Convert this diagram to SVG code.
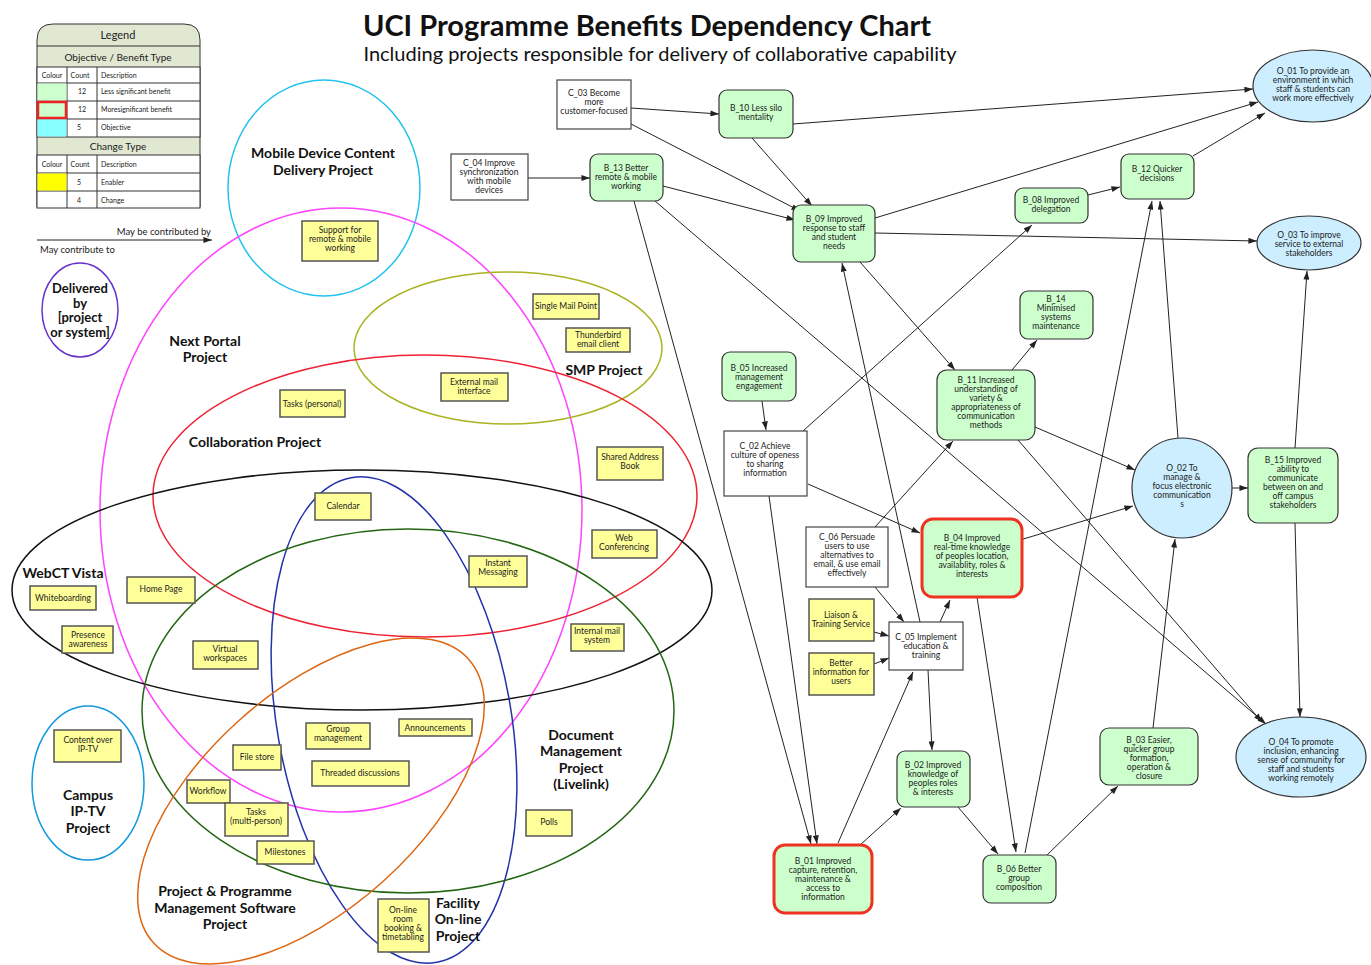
<svg xmlns="http://www.w3.org/2000/svg" width="1371" height="965" viewBox="0 0 1371 965">
<defs>
<marker id="ah" viewBox="0 0 10 7" refX="10" refY="3.5" markerWidth="9" markerHeight="6" orient="auto" markerUnits="userSpaceOnUse"><path d="M0,0 L10,3.5 L0,7 z" fill="#222"/></marker>
</defs>
<style>
text{font-family:Lato,"Open Sans","Liberation Sans",sans-serif;fill:#222}
.t{font-size:8.5px;text-anchor:middle}
.lg{font-size:7px}
.pl{font-size:14px;font-weight:bold;text-anchor:middle;fill:#111}
.dl{font-size:13px;font-weight:bold;text-anchor:middle;fill:#111}
.b{fill:#ccffcc;stroke:#333;stroke-width:1.2}
.bm{fill:#ccffcc;stroke:#ee3322;stroke-width:3}
.c{fill:#fff;stroke:#444;stroke-width:1.2}
.e{fill:#ffff99;stroke:#555;stroke-width:1.5}
.o{fill:#cceeff;stroke:#333;stroke-width:1.2}
.p{fill:none;stroke-width:1.5}
.cn line{stroke:#222;stroke-width:1;marker-end:url(#ah)}
.lgc{fill:none;stroke:#333;stroke-width:1}
</style>
<rect width="1371" height="965" fill="#fff"/>
<g id="title">
<text x="647" y="36" style="font-size:29px;font-weight:bold;text-anchor:middle;fill:#111">UCI Programme Benefits Dependency Chart</text>
<text x="660" y="61" style="font-size:20px;text-anchor:middle;fill:#111">Including projects responsible for delivery of collaborative capability</text>
</g>
<g id="legend">
<path d="M37,207 V40 Q37,24 53,24 H184 Q200,24 200,40 V207 Z" fill="#e0e8d2" stroke="#333" stroke-width="1"/>
<rect x="37" y="67" width="163" height="70" fill="#fff" stroke="#333"/>
<rect x="37" y="155" width="163" height="53" fill="#fff" stroke="#333"/>
<g class="lgc">
<line x1="37" y1="46" x2="200" y2="46"/><line x1="37" y1="83" x2="200" y2="83"/><line x1="37" y1="101" x2="200" y2="101"/><line x1="37" y1="119" x2="200" y2="119"/>
<line x1="37" y1="173" x2="200" y2="173"/><line x1="37" y1="191" x2="200" y2="191"/>
<line x1="67" y1="67" x2="67" y2="137"/><line x1="97" y1="67" x2="97" y2="137"/>
<line x1="67" y1="155" x2="67" y2="208"/><line x1="97" y1="155" x2="97" y2="208"/>
</g>
<rect x="37.5" y="83.5" width="29" height="17" fill="#ccffcc"/>
<rect x="38" y="102" width="28" height="16" fill="#ccffcc" stroke="#ee2222" stroke-width="2.5"/>
<rect x="37.5" y="119.5" width="29" height="17" fill="#88ffff"/>
<rect x="37.5" y="173.5" width="29" height="17" fill="#ffff00"/>
<text x="118" y="39" style="font-size:11px;text-anchor:middle">Legend</text>
<text x="118" y="61" style="font-size:10px;text-anchor:middle">Objective / Benefit Type</text>
<text x="52" y="78" class="lg" text-anchor="middle">Colour</text><text x="80" y="78" class="lg" text-anchor="middle">Count</text><text x="101" y="78" class="lg">Description</text>
<text x="82" y="94" class="lg" text-anchor="middle">12</text><text x="101" y="94" class="lg">Less significant benefit</text>
<text x="82" y="112" class="lg" text-anchor="middle">12</text><text x="101" y="112" class="lg">Moresignificant benefit</text>
<text x="79" y="130" class="lg" text-anchor="middle">5</text><text x="101" y="130" class="lg">Objective</text>
<text x="118" y="150" style="font-size:10px;text-anchor:middle">Change Type</text>
<text x="52" y="167" class="lg" text-anchor="middle">Colour</text><text x="80" y="167" class="lg" text-anchor="middle">Count</text><text x="101" y="167" class="lg">Description</text>
<text x="79" y="185" class="lg" text-anchor="middle">5</text><text x="101" y="185" class="lg">Enabler</text>
<text x="79" y="203" class="lg" text-anchor="middle">4</text><text x="101" y="203" class="lg">Change</text>
<text x="211" y="235" style="font-size:9.5px;text-anchor:end">May be contributed by</text>
<line x1="37" y1="240" x2="212" y2="240" stroke="#222" stroke-width="1" marker-end="url(#ah)"/>
<text x="40" y="253" style="font-size:9.5px">May contribute to</text>
</g>
<g id="projects">
<ellipse cx="324" cy="188" rx="96" ry="108" class="p" stroke="#22c3ee"/>
<ellipse cx="341" cy="510" rx="241" ry="302" class="p" stroke="#ff44ff"/>
<ellipse cx="508" cy="348" rx="154" ry="76" class="p" stroke="#aab322"/>
<ellipse cx="425" cy="496" rx="272" ry="141" class="p" stroke="#ee2233"/>
<ellipse cx="362" cy="590" rx="350" ry="120" class="p" stroke="#111"/>
<ellipse cx="394" cy="720" rx="117" ry="246" class="p" stroke="#2233aa" transform="rotate(-10 394 720)"/>
<ellipse cx="408" cy="711" rx="266" ry="182" class="p" stroke="#226611"/>
<ellipse cx="311" cy="801" rx="212" ry="108" class="p" stroke="#dd6611" transform="rotate(-42 311 801)"/>
<ellipse cx="88" cy="783" rx="56" ry="77" class="p" stroke="#1199dd"/>
<ellipse cx="80" cy="310" rx="38" ry="47" class="p" stroke="#6633cc"/>
<text class="pl" x="323" y="158">Mobile Device Content</text><text class="pl" x="323" y="175">Delivery Project</text>
<text class="pl" x="205" y="346">Next Portal</text><text class="pl" x="205" y="362">Project</text>
<text class="pl" x="604" y="375">SMP Project</text>
<text class="pl" x="255" y="447">Collaboration Project</text>
<text class="pl" x="63" y="578">WebCT Vista</text>
<text class="pl" x="581" y="740">Document</text><text class="pl" x="581" y="756">Management</text><text class="pl" x="581" y="773">Project</text><text class="pl" x="581" y="789">(Livelink)</text>
<text class="pl" x="88" y="800">Campus</text><text class="pl" x="88" y="816">IP-TV</text><text class="pl" x="88" y="833">Project</text>
<text class="pl" x="225" y="896">Project &amp; Programme</text><text class="pl" x="225" y="913">Management Software</text><text class="pl" x="225" y="929">Project</text>
<text class="pl" x="458" y="908">Facility</text><text class="pl" x="458" y="924">On-line</text><text class="pl" x="458" y="941">Project</text>
<text class="dl" x="80" y="293">Delivered</text><text class="dl" x="80" y="308">by</text><text class="dl" x="80" y="322">[project</text><text class="dl" x="80" y="337">or system]</text>
</g>
<g id="enablers">
<g id="e_support"><rect x="302" y="221" width="76" height="40" class="e"/><text class="t" x="340" y="233">Support for</text><text class="t" x="340" y="242">remote &amp; mobile</text><text class="t" x="340" y="251">working</text></g>
<g id="e_smp"><rect x="533" y="294" width="66" height="25" class="e"/><text class="t" x="566" y="309">Single Mail Point</text></g>
<g id="e_tb"><rect x="566" y="328" width="64" height="24" class="e"/><text class="t" x="598" y="338">Thunderbird</text><text class="t" x="598" y="347">email client</text></g>
<g id="e_ext"><rect x="441" y="373" width="67" height="28" class="e"/><text class="t" x="474" y="385">External mail</text><text class="t" x="474" y="394">interface</text></g>
<g id="e_tasksp"><rect x="280" y="390" width="65" height="27" class="e"/><text class="t" x="312" y="407">Tasks (personal)</text></g>
<g id="e_sab"><rect x="597" y="447" width="66" height="33" class="e"/><text class="t" x="630" y="460">Shared Address</text><text class="t" x="630" y="469">Book</text></g>
<g id="e_cal"><rect x="315" y="493" width="56" height="27" class="e"/><text class="t" x="343" y="509">Calendar</text></g>
<g id="e_web"><rect x="592" y="530" width="65" height="28" class="e"/><text class="t" x="624" y="541">Web</text><text class="t" x="624" y="550">Conferencing</text></g>
<g id="e_im"><rect x="469" y="556" width="58" height="31" class="e"/><text class="t" x="498" y="566">Instant</text><text class="t" x="498" y="575">Messaging</text></g>
<g id="e_home"><rect x="127" y="577" width="68" height="26" class="e"/><text class="t" x="161" y="592">Home Page</text></g>
<g id="e_wb"><rect x="30" y="586" width="66" height="24" class="e"/><text class="t" x="63" y="601">Whiteboarding</text></g>
<g id="e_pres"><rect x="62" y="626" width="51" height="27" class="e"/><text class="t" x="88" y="638">Presence</text><text class="t" x="88" y="647">awareness</text></g>
<g id="e_vw"><rect x="193" y="641" width="65" height="28" class="e"/><text class="t" x="225" y="652">Virtual</text><text class="t" x="225" y="661">workspaces</text></g>
<g id="e_ims"><rect x="571" y="624" width="53" height="27" class="e"/><text class="t" x="597" y="634">Internal mail</text><text class="t" x="597" y="643">system</text></g>
<g id="e_gm"><rect x="306" y="723" width="64" height="26" class="e"/><text class="t" x="338" y="732">Group</text><text class="t" x="338" y="741">management</text></g>
<g id="e_ann"><rect x="399" y="719" width="73" height="17" class="e"/><text class="t" x="435" y="731">Announcements</text></g>
<g id="e_fs"><rect x="233" y="745" width="48" height="25" class="e"/><text class="t" x="257" y="760">File store</text></g>
<g id="e_td"><rect x="312" y="761" width="97" height="25" class="e"/><text class="t" x="360" y="776">Threaded discussions</text></g>
<g id="e_wf"><rect x="187" y="780" width="43" height="23" class="e"/><text class="t" x="208" y="794">Workflow</text></g>
<g id="e_tm"><rect x="225" y="803" width="63" height="33" class="e"/><text class="t" x="256" y="815">Tasks</text><text class="t" x="256" y="824">(multi-person)</text></g>
<g id="e_ms"><rect x="257" y="841" width="57" height="23" class="e"/><text class="t" x="285" y="855">Milestones</text></g>
<g id="e_polls"><rect x="526" y="810" width="46" height="26" class="e"/><text class="t" x="549" y="825">Polls</text></g>
<g id="e_room"><rect x="378" y="899" width="51" height="53" class="e"/><text class="t" x="403" y="913">On-line</text><text class="t" x="403" y="922">room</text><text class="t" x="403" y="931">booking &amp;</text><text class="t" x="403" y="940">timetabling</text></g>
<g id="e_iptv"><rect x="54" y="730" width="67" height="32" class="e"/><text class="t" x="88" y="743">Content over</text><text class="t" x="88" y="752">IP-TV</text></g>
</g>
<g id="connectors" class="cn">
<line x1="631" y1="108" x2="719" y2="114"/>
<line x1="631" y1="124" x2="800" y2="211"/>
<line x1="528" y1="178" x2="590" y2="178"/>
<line x1="663" y1="186" x2="795" y2="220"/>
<line x1="634" y1="201" x2="811" y2="844"/>
<line x1="655" y1="201" x2="1266" y2="724"/>
<line x1="752" y1="138" x2="812" y2="206"/>
<line x1="793" y1="124" x2="1253" y2="89"/>
<line x1="875" y1="218" x2="1258" y2="102"/>
<line x1="875" y1="233" x2="1257" y2="241"/>
<line x1="860" y1="262" x2="955" y2="370"/>
<line x1="1088" y1="195" x2="1120" y2="187"/>
<line x1="1193" y1="156" x2="1265" y2="113"/>
<line x1="803" y1="431" x2="1032" y2="225"/>
<line x1="1012" y1="370" x2="1037" y2="340"/>
<line x1="1035" y1="427" x2="1135" y2="470"/>
<line x1="1018" y1="440" x2="1262" y2="722"/>
<line x1="875" y1="527" x2="953" y2="441"/>
<line x1="875" y1="587" x2="904" y2="622"/>
<line x1="874" y1="632" x2="889" y2="636"/>
<line x1="874" y1="664" x2="889" y2="658"/>
<line x1="940" y1="622" x2="950" y2="600"/>
<line x1="920" y1="622" x2="842" y2="263"/>
<line x1="928" y1="670" x2="932" y2="750"/>
<line x1="838" y1="843" x2="913" y2="672"/>
<line x1="808" y1="484" x2="920" y2="533"/>
<line x1="1020" y1="540" x2="1133" y2="506"/>
<line x1="977" y1="597" x2="1016" y2="852"/>
<line x1="762" y1="401" x2="766" y2="430"/>
<line x1="860" y1="845" x2="901" y2="808"/>
<line x1="958" y1="807" x2="998" y2="854"/>
<line x1="1047" y1="855" x2="1118" y2="786"/>
<line x1="1153" y1="728" x2="1175" y2="539"/>
<line x1="1232" y1="488" x2="1248" y2="488"/>
<line x1="1295" y1="523" x2="1300" y2="717"/>
<line x1="1295" y1="448" x2="1307" y2="271"/>
<line x1="1025" y1="853" x2="1152" y2="201"/>
<line x1="1178" y1="438" x2="1160" y2="201"/>
<line x1="769" y1="496" x2="817" y2="844"/>
</g>
<g id="nodes">
<g id="C_03"><rect x="557" y="80" width="74" height="49" class="c"/><text class="t" x="594" y="96">C_03 Become</text><text class="t" x="594" y="105">more</text><text class="t" x="594" y="114">customer-focused</text></g>
<g id="C_04"><rect x="451" y="154" width="77" height="46" class="c"/><text class="t" x="489" y="166">C_04 Improve</text><text class="t" x="489" y="175">synchronization</text><text class="t" x="489" y="184">with mobile</text><text class="t" x="489" y="193">devices</text></g>
<g id="B_13"><rect x="590" y="154" width="73" height="47" rx="8" class="b"/><text class="t" x="626" y="171">B_13 Better</text><text class="t" x="626" y="180">remote &amp; mobile</text><text class="t" x="626" y="189">working</text></g>
<g id="B_10"><rect x="719" y="90" width="74" height="48" rx="8" class="b"/><text class="t" x="756" y="111">B_10 Less silo</text><text class="t" x="756" y="120">mentality</text></g>
<g id="B_09"><rect x="793" y="205" width="82" height="57" rx="8" class="b"/><text class="t" x="834" y="222">B_09 Improved</text><text class="t" x="834" y="231">response to staff</text><text class="t" x="834" y="240">and student</text><text class="t" x="834" y="249">needs</text></g>
<g id="B_08"><rect x="1015" y="188" width="73" height="35" rx="8" class="b"/><text class="t" x="1051" y="203">B_08 Improved</text><text class="t" x="1051" y="212">delegation</text></g>
<g id="B_12"><rect x="1121" y="154" width="73" height="45" rx="8" class="b"/><text class="t" x="1157" y="172">B_12 Quicker</text><text class="t" x="1157" y="181">decisions</text></g>
<g id="O_01"><ellipse cx="1313" cy="86" rx="60" ry="36" class="o"/><text class="t" x="1313" y="74">O_01 To provide an</text><text class="t" x="1313" y="83">environment in which</text><text class="t" x="1313" y="92">staff &amp; students can</text><text class="t" x="1313" y="101">work more effectively</text></g>
<g id="O_03"><ellipse cx="1309" cy="243" rx="52" ry="27" class="o"/><text class="t" x="1309" y="238">O_03 To improve</text><text class="t" x="1309" y="247">service to external</text><text class="t" x="1309" y="256">stakeholders</text></g>
<g id="B_14"><rect x="1020" y="291" width="73" height="48" rx="8" class="b"/><text class="t" x="1056" y="302">B_14</text><text class="t" x="1056" y="311">Minimised</text><text class="t" x="1056" y="320">systems</text><text class="t" x="1056" y="329">maintenance</text></g>
<g id="B_05"><rect x="722" y="352" width="74" height="49" rx="8" class="b"/><text class="t" x="759" y="371">B_05 Increased</text><text class="t" x="759" y="380">management</text><text class="t" x="759" y="389">engagement</text></g>
<g id="B_11"><rect x="937" y="370" width="98" height="70" rx="10" class="b"/><text class="t" x="986" y="383">B_11 Increased</text><text class="t" x="986" y="392">understanding of</text><text class="t" x="986" y="401">variety &amp;</text><text class="t" x="986" y="410">appropriateness of</text><text class="t" x="986" y="419">communication</text><text class="t" x="986" y="428">methods</text></g>
<g id="C_02"><rect x="724" y="431" width="83" height="65" class="c"/><text class="t" x="765" y="449">C_02 Achieve</text><text class="t" x="765" y="458">culture of openess</text><text class="t" x="765" y="467">to sharing</text><text class="t" x="765" y="476">information</text></g>
<g id="O_02"><circle cx="1182" cy="488" r="50" class="o"/><text class="t" x="1182" y="471">O_02 To</text><text class="t" x="1182" y="480">manage &amp;</text><text class="t" x="1182" y="489">focus electronic</text><text class="t" x="1182" y="498">communication</text><text class="t" x="1182" y="507">s</text></g>
<g id="B_15"><rect x="1248" y="448" width="90" height="75" rx="10" class="b"/><text class="t" x="1293" y="463">B_15 Improved</text><text class="t" x="1293" y="472">ability to</text><text class="t" x="1293" y="481">communicate</text><text class="t" x="1293" y="490">between on and</text><text class="t" x="1293" y="499">off campus</text><text class="t" x="1293" y="508">stakeholders</text></g>
<g id="C_06"><rect x="806" y="527" width="82" height="60" class="c"/><text class="t" x="847" y="540">C_06 Persuade</text><text class="t" x="847" y="549">users to use</text><text class="t" x="847" y="558">alternatives to</text><text class="t" x="847" y="567">email, &amp; use email</text><text class="t" x="847" y="576">effectively</text></g>
<g id="B_04"><rect x="922" y="519" width="100" height="78" rx="11" class="bm"/><text class="t" x="972" y="541">B_04 Improved</text><text class="t" x="972" y="550">real-time knowledge</text><text class="t" x="972" y="559">of peoples location,</text><text class="t" x="972" y="568">availablity, roles &amp;</text><text class="t" x="972" y="577">interests</text></g>
<g id="E_liaison"><rect x="809" y="599" width="65" height="42" class="e"/><text class="t" x="841" y="618">Liaison &amp;</text><text class="t" x="841" y="627">Training Service</text></g>
<g id="E_better"><rect x="809" y="653" width="65" height="42" class="e"/><text class="t" x="841" y="666">Better</text><text class="t" x="841" y="675">information for</text><text class="t" x="841" y="684">users</text></g>
<g id="C_05"><rect x="889" y="622" width="74" height="48" class="c"/><text class="t" x="926" y="640">C_05 Implement</text><text class="t" x="926" y="649">education &amp;</text><text class="t" x="926" y="658">training</text></g>
<g id="B_02"><rect x="897" y="751" width="73" height="56" rx="8" class="b"/><text class="t" x="933" y="768">B_02 Improved</text><text class="t" x="933" y="777">knowledge of</text><text class="t" x="933" y="786">peoples roles</text><text class="t" x="933" y="795">&amp; interests</text></g>
<g id="B_03"><rect x="1100" y="728" width="98" height="57" rx="9" class="b"/><text class="t" x="1149" y="743">B_03 Easier,</text><text class="t" x="1149" y="752">quicker group</text><text class="t" x="1149" y="761">formation,</text><text class="t" x="1149" y="770">operation &amp;</text><text class="t" x="1149" y="779">closure</text></g>
<g id="O_04"><ellipse cx="1301" cy="757" rx="65" ry="40" class="o"/><text class="t" x="1301" y="745">O_04 To promote</text><text class="t" x="1301" y="754">inclusion, enhancing</text><text class="t" x="1301" y="763">sense of community for</text><text class="t" x="1301" y="772">staff and students</text><text class="t" x="1301" y="781">working remotely</text></g>
<g id="B_01"><rect x="774" y="845" width="98" height="68" rx="11" class="bm"/><text class="t" x="823" y="864">B_01 Improved</text><text class="t" x="823" y="873">capture, retention,</text><text class="t" x="823" y="882">maintenance &amp;</text><text class="t" x="823" y="891">access to</text><text class="t" x="823" y="900">information</text></g>
<g id="B_06"><rect x="983" y="855" width="73" height="48" rx="8" class="b"/><text class="t" x="1019" y="872">B_06 Better</text><text class="t" x="1019" y="881">group</text><text class="t" x="1019" y="890">composition</text></g>
</g>
</svg>
